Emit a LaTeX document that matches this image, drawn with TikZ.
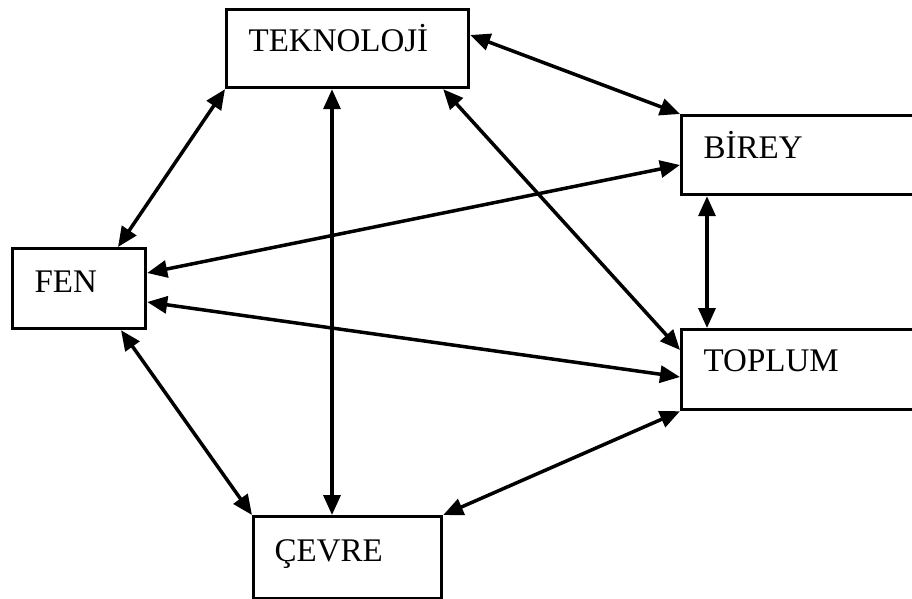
\documentclass[tikz,border=0pt]{standalone}
\usepackage{fontspec}
\setmainfont{Liberation Serif}
\usetikzlibrary{arrows.meta}
\tikzset{
  box/.style n args={4}{draw=black, line width=3.2pt, rectangle, anchor=north west,
    inner ysep=0pt, inner xsep=#1, text width=#2, text height=#3, text depth=#4,
    align=left, font=\fontsize{33}{38}\selectfont},
  link/.style={line width=3.5pt, {Triangle[length=20pt,width=17pt]}-{Triangle[length=20pt,width=17pt]}}
}
\begin{document}
\begin{tikzpicture}[x=1pt,y=-1pt]
\useasboundingbox (0,0) rectangle (912,598);
\node[box={22pt}{198pt}{42pt}{36pt}] (tek) at (225,8) {TEKNOLOJİ};
\node[box={22pt}{191pt}{43pt}{36pt}] (bir) at (680,114) {BİREY};
\node[box={22pt}{191pt}{42pt}{38pt}] (top) at (680,328) {TOPLUM};
\node[box={22pt}{89pt}{44pt}{36pt}] (fen) at (11,247) {FEN};
\node[box={21pt}{146pt}{45pt}{37pt}] (cev) at (252,515) {ÇEVRE};
\draw[link] (tek.south west) -- ([xshift=107pt]fen.north west);
\draw[link] ([xshift=107pt]tek.south west) -- ([xshift=80pt]cev.north west);
\draw[link] ([xshift=-27pt]tek.south east) -- ([yshift=-22pt]top.north west);
\draw[link] ([yshift=-27pt]tek.north east) -- (bir.north west);
\draw[link] ([yshift=-51pt]bir.north west) -- ([yshift=-26pt]fen.north east);
\draw[link] ([yshift=-55pt]fen.north east) -- ([yshift=-49pt]top.north west);
\draw[link] ([xshift=27pt]bir.south west) -- ([xshift=27pt]top.north west);
\draw[link] ([xshift=110pt]fen.south west) -- (cev.north west);
\draw[link] (top.south west) -- (cev.north east);
\end{tikzpicture}
\end{document}
